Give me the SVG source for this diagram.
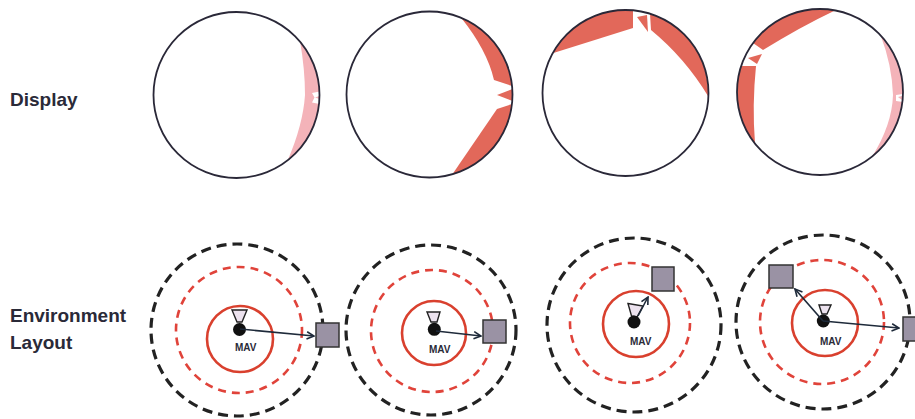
<svg xmlns="http://www.w3.org/2000/svg" width="915" height="419" viewBox="0 0 915 419">
<style>
.lbl{font-family:"Liberation Sans",Arial,sans-serif;font-weight:bold;font-size:19px;fill:#2a2a38}
.mav{font-family:"Liberation Sans",Arial,sans-serif;font-weight:bold;font-size:10px;fill:#2a2a38}
.disp{fill:none;stroke:#2a2838;stroke-width:1.8}
.red{fill:#e2685a}
.pink{fill:#f4b3b9}
.gap{fill:#ffffff}
.outer{fill:none;stroke:#222;stroke-width:3.2;stroke-dasharray:10 6}
.rdash{fill:none;stroke:#e0433a;stroke-width:2.6;stroke-dasharray:8 6}
.rsolid{fill:none;stroke:#d9402e;stroke-width:2.6}
.obs{fill:#9a92a4;stroke:#333;stroke-width:1.5}
.dot{fill:#111}
.cam{fill:#ece2ee;stroke:#222;stroke-width:1.4}
.arr{fill:none;stroke:#1e2a3a;stroke-width:1.6;marker-end:url(#ah)}
</style>
<defs>
<marker id="ah" viewBox="0 0 10 10" refX="9" refY="5" markerWidth="9" markerHeight="9" markerUnits="userSpaceOnUse" orient="auto">
<path d="M1,1 L9,5 L1,9" fill="none" stroke="#1e2a3a" stroke-width="1.8"/>
</marker>
</defs>

<text class="lbl" x="10" y="106">Display</text>
<text class="lbl" x="10" y="322">Environment</text>
<text class="lbl" x="10" y="349">Layout</text>

<g id="display1">
<path class="pink" d="M300.1,41.6 Q305,70 305,95 Q303,125 287.6,160.4 A83 83 0 0 0 300.1,41.6 Z"/>
<path class="gap" d="M312,93 L319.5,91.5 L319.5,96 L315,97.5 L319.5,99 L319.5,104 L312,102.5 L314.5,97.5 Z"/>
<circle class="disp" cx="236.5" cy="95" r="83"/>
</g>

<g id="display2">
<path class="red" d="M460.9,17.6 Q487,50 494,80 L512.1,86 A83 83 0 0 0 460.9,17.6 Z"/>
<path class="red" d="M497,95 L512.5,89 L512.5,101 Z"/>
<path class="red" d="M512,104 L497,109 L452.4,174.3 A83 83 0 0 0 512,104 Z"/>
<circle class="disp" cx="429.5" cy="94.5" r="83"/>
</g>

<g id="display3">
<path class="red" d="M552.6,53.3 L633,28 L633,10.3 A83 83 0 0 0 552.6,53.3 Z"/>
<path class="red" d="M637,17 L647,15 L648,32 Z"/>
<path class="red" d="M650,13.7 L651,30 Q685,58 708,96 A83 83 0 0 0 650,13.7 Z"/>
<circle class="disp" cx="625.5" cy="93" r="83"/>
</g>

<g id="display4">
<path class="red" d="M835,10.4 Q800,27 763,50 L753,43 A83 83 0 0 1 835,10.4 Z"/>
<path class="red" d="M748,58 L762,54 L757,64 Z"/>
<path class="red" d="M741.2,66 L756,66 Q752,105 755,143.6 A83 83 0 0 1 741.2,66 Z"/>
<path class="pink" d="M880.7,35.4 Q892,65 893,95 Q892,125 872,156.7 A83 83 0 0 0 880.7,35.4 Z"/>
<path class="gap" d="M896,95 L903,94 L903,102 L896,101 Z"/>
<path class="pink" d="M898,97 L902,96 L902,100 Z"/>
<circle class="disp" cx="820" cy="92" r="83"/>
</g>

<g id="layout1">
<circle class="outer" cx="237" cy="330" r="86"/>
<circle class="rdash" cx="239" cy="330" r="63"/>
<circle class="rsolid" cx="240" cy="339" r="33"/>
<path class="cam" d="M232,310 L247,310 L242,322 L237,322 Z"/>
<circle class="dot" cx="239.5" cy="329.5" r="6.5"/>
<text class="mav" x="235" y="351">MAV</text>
<rect id="obs1" class="obs" x="316" y="323" width="23" height="24"/>
</g>

<g id="layout2">
<circle class="outer" cx="431" cy="330" r="85"/>
<circle class="rdash" cx="432" cy="331" r="61"/>
<circle class="rsolid" cx="434" cy="333" r="32"/>
<path class="cam" d="M427,312 L440,312 L437,322 L431,322 Z"/>
<circle class="dot" cx="434.3" cy="329.3" r="6.5"/>
<text class="mav" x="429" y="353">MAV</text>
<rect id="obs2" class="obs" x="483" y="320" width="23" height="23"/>
</g>

<g id="layout3">
<circle class="outer" cx="634" cy="325" r="87"/>
<circle class="rdash" cx="630" cy="323" r="60"/>
<circle class="rsolid" cx="636" cy="324" r="33"/>
<path class="cam" d="M628,303.5 L643,306 L637,317 L631.5,316 Z"/>
<circle class="dot" cx="634" cy="322" r="6.5"/>
<text class="mav" x="630" y="345">MAV</text>
<rect id="obs3" class="obs" x="652" y="267" width="22" height="24"/>
</g>

<g id="layout4">
<circle class="outer" cx="823" cy="322" r="87"/>
<circle class="rdash" cx="822" cy="322" r="62"/>
<circle class="rsolid" cx="825" cy="323" r="33"/>
<path class="cam" d="M819,305 L831,305 L827,314 L822,314 Z"/>
<circle class="dot" cx="823.3" cy="321" r="6.5"/>
<text class="mav" x="820" y="345">MAV</text>
<rect id="obs4a" class="obs" x="769" y="265" width="24" height="23"/>
<rect id="obs4b" class="obs" x="903" y="317" width="24" height="24"/>
</g>

<g id="connectors">
<path class="arr" d="M240,329 L314,336"/>
<path class="arr" d="M436,331 L481,336"/>
<path class="arr" d="M638,316 L648,297"/>
<path class="arr" d="M823,321 L795,289"/>
<path class="arr" d="M823,321 L899,328"/>
</g>
</svg>
